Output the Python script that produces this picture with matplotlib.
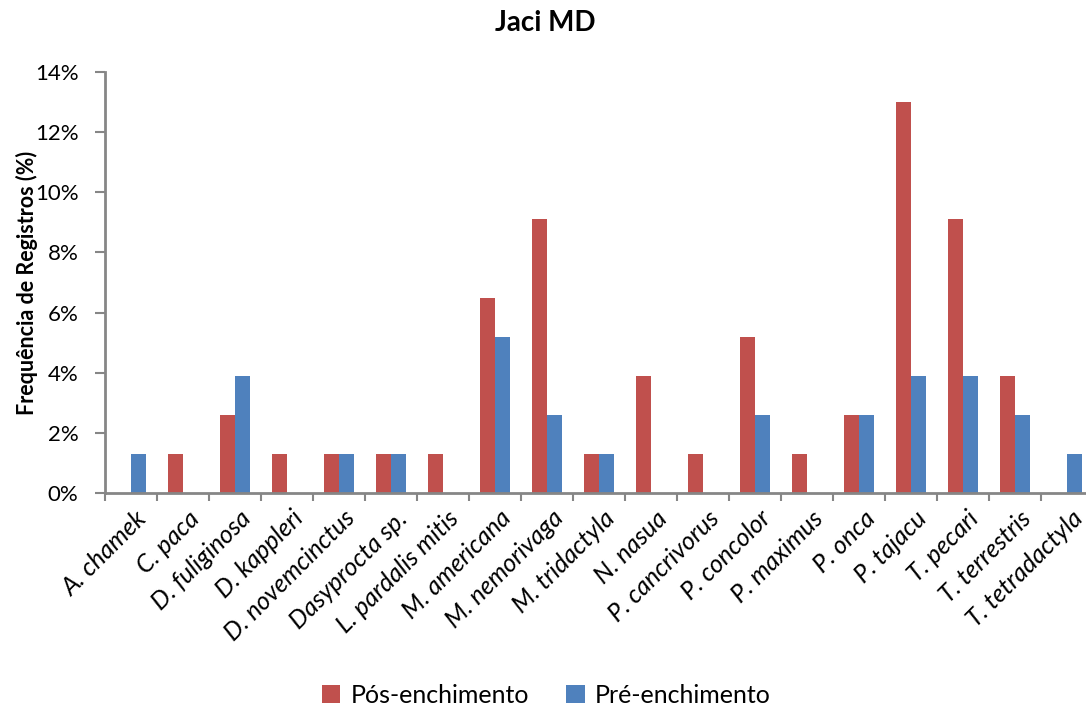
import matplotlib
matplotlib.use("Agg")
import matplotlib.pyplot as plt
import numpy as np
from matplotlib.ticker import FuncFormatter

plt.rcParams['font.family'] = ['Lato', 'DejaVu Sans']

especies = ['A. chamek', 'C. paca', 'D. fuliginosa', 'D. kappleri', 'D. novemcinctus',
            'Dasyprocta sp.', 'L. pardalis mitis', 'M. americana', 'M. nemorivaga',
            'M. tridactyla', 'N. nasua', 'P. cancrivorus', 'P. concolor', 'P. maximus',
            'P. onca', 'P. tajacu', 'T. pecari', 'T. terrestris', 'T. tetradactyla']
pos_enchimento = [0, 1.3, 2.6, 1.3, 1.3, 1.3, 1.3, 6.5, 9.1, 1.3, 3.9, 1.3, 5.2, 1.3,
                  2.6, 13.0, 9.1, 3.9, 0]
pre_enchimento = [1.3, 0, 3.9, 0, 1.3, 1.3, 0, 5.2, 2.6, 1.3, 0, 0, 2.6, 0,
                  2.6, 3.9, 3.9, 2.6, 1.3]

cor_pos = '#C0504D'
cor_pre = '#4F81BD'
cinza = '#868686'

fig = plt.figure(figsize=(10.86, 7.10), dpi=100)
# eixo se estende um pouco além da borda direita
ax = fig.add_axes([105/1086, 217/710, 988/1086, 421/710])

x = np.arange(len(especies))
w = 1 / 3.5
ax.bar(x - w/2, pos_enchimento, w, color=cor_pos, label='Pós-enchimento')
ax.bar(x + w/2, pre_enchimento, w, color=cor_pre, label='Pré-enchimento')

ax.set_xlim(-0.5, len(especies) - 0.5)
ax.set_ylim(0, 14)
ax.set_yticks(np.arange(0, 15, 2))
ax.yaxis.set_major_formatter(FuncFormatter(lambda v, p: '%d%%' % v))
ax.tick_params(axis='y', labelsize=16, length=7, color=cinza, width=1.5, pad=12)

ax.set_xticks(np.arange(len(especies) + 1) - 0.5, minor=False)
ax.set_xticklabels([])
ax.tick_params(axis='x', length=6, color=cinza, width=1.5)
for i, nome in enumerate(especies):
    ax.text(i + 0.08, -0.45, nome, rotation=45, ha='right', va='top',
            rotation_mode='anchor', fontsize=18, style='italic',
            transform=ax.transData)

for s in ['top', 'right']:
    ax.spines[s].set_visible(False)
for s in ['left', 'bottom']:
    ax.spines[s].set_color(cinza)
    ax.spines[s].set_linewidth(2)

ax.set_ylabel('Frequência de Registros (%)', fontsize=15.5, fontweight='bold', labelpad=-2)
fig.text(0.502, 0.968, 'Jaci MD', ha='center', va='center', fontsize=20, fontweight='bold')

fig.legend(loc='center', bbox_to_anchor=(0.503, 0.021), ncol=2, frameon=False,
           fontsize=18, handlelength=0.75, handleheight=0.75, columnspacing=1.5,
           handletextpad=0.4)

fig.savefig('out.png', dpi=100)
